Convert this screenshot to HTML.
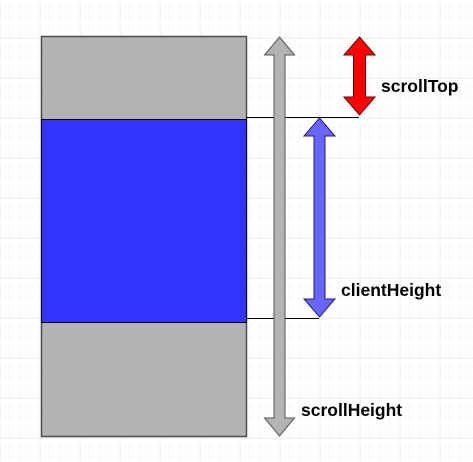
<!DOCTYPE html>
<html><head><meta charset="utf-8"><style>
html,body{margin:0;padding:0;background:#fff;}
svg{display:block;font-family:"Liberation Sans",Arial,sans-serif;}
</style></head><body>
<svg width="473" height="462" viewBox="0 0 473 462">
<defs>
<pattern id="minor" width="10" height="10" patternUnits="userSpaceOnUse" x="0" y="-2">
<path d="M10 0V10M0 10H10" stroke="#f3f3f3" stroke-width="1" fill="none"/>
</pattern>
<pattern id="major" width="40" height="40" patternUnits="userSpaceOnUse" x="0.5" y="-1.5">
<path d="M0 0V40M0 0H40" stroke="#e6e6e6" stroke-width="1" fill="none"/>
</pattern>
</defs>
<rect width="473" height="462" fill="url(#minor)"/>
<rect width="473" height="462" fill="url(#major)"/>

<rect x="41.5" y="36.5" width="205" height="400" fill="#b3b3b3" stroke="#4d4d4d" stroke-width="1.5"/>
<rect x="41.5" y="119.5" width="205" height="203" fill="#3333ff" stroke="#000" stroke-width="1"/>

<line x1="246" y1="117.5" x2="359" y2="117.5" stroke="#000" stroke-width="1"/>
<line x1="246" y1="318.5" x2="319" y2="318.5" stroke="#000" stroke-width="1"/>

<polygon points="279.5,37 294.5,55 285,55 285,418 294.5,418 279.5,436 264.5,418 274,418 274,55 264.5,55" fill="#b3b3b3" stroke="#555" stroke-width="1"/>
<polygon points="359.5,37 375,55 365.5,55 365.5,97 375,97 359.5,115 344,97 353.5,97 353.5,55 344,55" fill="#ff0000" stroke="#660000" stroke-width="1"/>
<polygon points="319.5,118 335,136 325,136 325,299 335,299 319.5,317 304,299 314,299 314,136 304,136" fill="#6666ff" stroke="#222266" stroke-width="1"/>

<text x="381" y="92" font-size="17.5" font-weight="bold" fill="#000">scrollTop</text>
<text x="341" y="296" font-size="17.5" font-weight="bold" fill="#000">clientHeight</text>
<text x="301" y="416" font-size="17.5" font-weight="bold" fill="#000">scrollHeight</text>
</svg>
</body></html>
